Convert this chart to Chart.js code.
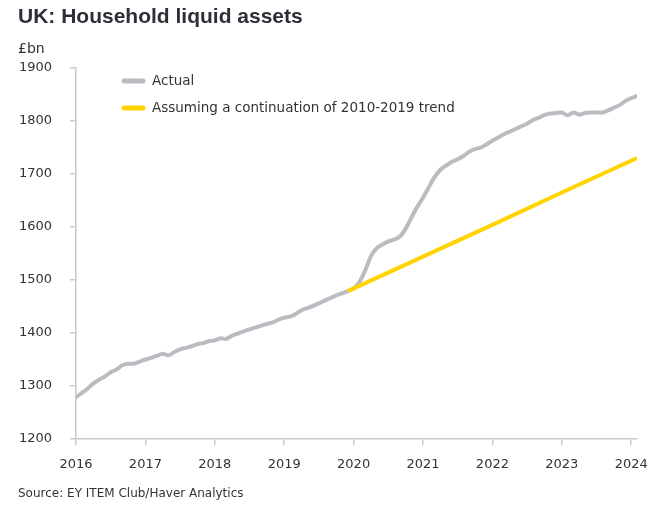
<!DOCTYPE html>
<html>
<head>
<meta charset="utf-8">
<script src="https://cdn.jsdelivr.net/npm/chart.js@4"></script>
<style>
  html, body { margin: 0; padding: 0; background: #fff; }
  #wrap { position: relative; width: 647px; height: 507px; }
  #chartCanvas { position: absolute; left: 0; top: 0; }
  .txt { position: absolute; color: #2e2e38; white-space: nowrap; }
  #title { left: 18px; top: 4px; font: bold 21px "Liberation Sans", Arial, sans-serif; color: #2e2e38; }
  #unit { left: 18px; top: 40px; font: 14px "DejaVu Sans", sans-serif; color: #333; }
  #source { left: 18px; top: 486px; font: 12px "DejaVu Sans", sans-serif; color: #333; }
</style>
</head>
<body>
<div id="wrap">
  <canvas id="chartCanvas" width="647" height="507"></canvas>
  <div class="txt" id="title">UK: Household liquid assets</div>
  <div class="txt" id="unit">£bn</div>
  <div class="txt" id="source">Source: EY ITEM Club/Haver Analytics</div>
</div>
<script>
// Year tick labels (one tick every 12 months, starting Jan 2016)
const yearLabels = ['2016', '2017', '2018', '2019', '2020', '2021', '2022', '2023', '2024'];

// Actual household liquid assets, £bn, monthly Jan 2016 - Feb 2024
const actualValues = [
  1279, 1287, 1295, 1305, 1312, 1318, 1326, 1331, 1339, 1342, 1342, 1346, // 2016
  1350, 1353, 1357, 1361, 1358, 1364, 1369, 1372, 1375, 1379, 1381, 1385, // 2017
  1386, 1390, 1389, 1395, 1399, 1403, 1407, 1410, 1414, 1417, 1420, 1425, // 2018
  1429, 1431, 1436, 1443, 1447, 1451, 1456, 1461, 1466, 1471, 1475, 1479, // 2019
  1484, 1496, 1518, 1545, 1560, 1567, 1573, 1576, 1582, 1597, 1618, 1638, // 2020
  1655, 1675, 1694, 1708, 1716, 1723, 1728, 1734, 1742, 1747, 1750, 1756, // 2021
  1763, 1769, 1775, 1780, 1785, 1790, 1795, 1802, 1806, 1811, 1814, 1815, // 2022
  1816, 1811, 1816, 1812, 1815, 1816, 1816, 1816, 1820, 1825, 1830, 1838, // 2023
  1843, 1847                                                              // 2024
];

// Trend line: month index (0 = Jan 2016) and £bn
const trendMonths = [47, 60, 72, 84, 97];
const trendValues = [1479, 1544, 1604, 1665, 1730];

const seriesLabels = ['Actual', 'Assuming a continuation of 2010-2019 trend'];
const seriesColors = ['#b9bcc0', '#ffd400'];

const axisColor = '#c6cacf';
const textColor = '#333333';

// Simple legend drawn inside the plot area
const insideLegend = {
  id: 'insideLegend',
  afterDraw(chart) {
    const ctx = chart.ctx;
    ctx.save();
    ctx.font = '13.5px "DejaVu Sans", sans-serif';
    ctx.textBaseline = 'middle';
    chart.data.datasets.forEach((ds, i) => {
      const y = 81 + i * 27;
      ctx.strokeStyle = ds.borderColor;
      ctx.lineWidth = 5;
      ctx.lineCap = 'round';
      ctx.beginPath();
      ctx.moveTo(124, y);
      ctx.lineTo(143, y);
      ctx.stroke();
      ctx.fillStyle = textColor;
      ctx.fillText(ds.label, 152, y);
    });
    ctx.restore();
  }
};

const ctx = document.getElementById('chartCanvas').getContext('2d');

new Chart(ctx, {
  type: 'line',
  data: {
    datasets: [
      {
        label: seriesLabels[0],
        data: actualValues.map((v, i) => ({ x: i, y: v })),
        borderColor: seriesColors[0],
        borderWidth: 4,
        pointRadius: 0,
        tension: 0.3,
        borderCapStyle: 'round',
        borderJoinStyle: 'round',
        order: 2
      },
      {
        label: seriesLabels[1],
        data: trendMonths.map((m, i) => ({ x: m, y: trendValues[i] })),
        borderColor: seriesColors[1],
        borderWidth: 4,
        pointRadius: 0,
        tension: 0,
        borderCapStyle: 'butt',
        order: 1
      }
    ]
  },
  options: {
    responsive: false,
    animation: false,
    layout: { padding: { left: 0, top: 68, right: 10, bottom: 0 } },
    plugins: {
      legend: { display: false },
      tooltip: { enabled: false }
    },
    scales: {
      x: {
        type: 'linear',
        min: 0,
        max: 97,
        afterFit: scale => {
          scale.height = 68;
          scale.paddingLeft = 0;
          scale.paddingRight = 0;
        },
        afterBuildTicks: scale => {
          scale.ticks = yearLabels.map((_, i) => ({ value: i * 12 }));
        },
        ticks: {
          autoSkip: false,
          maxRotation: 0,
          padding: 12,
          color: textColor,
          font: { family: 'DejaVu Sans', size: 13 },
          callback: (v) => yearLabels[Math.round(v / 12)]
        },
        grid: {
          drawOnChartArea: false,
          drawTicks: true,
          tickLength: 6,
          color: axisColor,
          lineWidth: 1.5
        },
        border: { color: axisColor, width: 1.5 }
      },
      y: {
        min: 1200,
        max: 1900,
        afterFit: scale => { scale.width = 76; },
        ticks: {
          stepSize: 100,
          padding: 18,
          color: textColor,
          font: { family: 'DejaVu Sans', size: 13 },
          callback: (v) => String(v)
        },
        grid: {
          drawOnChartArea: false,
          drawTicks: true,
          tickLength: 6,
          color: axisColor,
          lineWidth: 1.5
        },
        border: { color: axisColor, width: 1.5 }
      }
    }
  },
  plugins: [insideLegend]
});
</script>
</body>
</html>
